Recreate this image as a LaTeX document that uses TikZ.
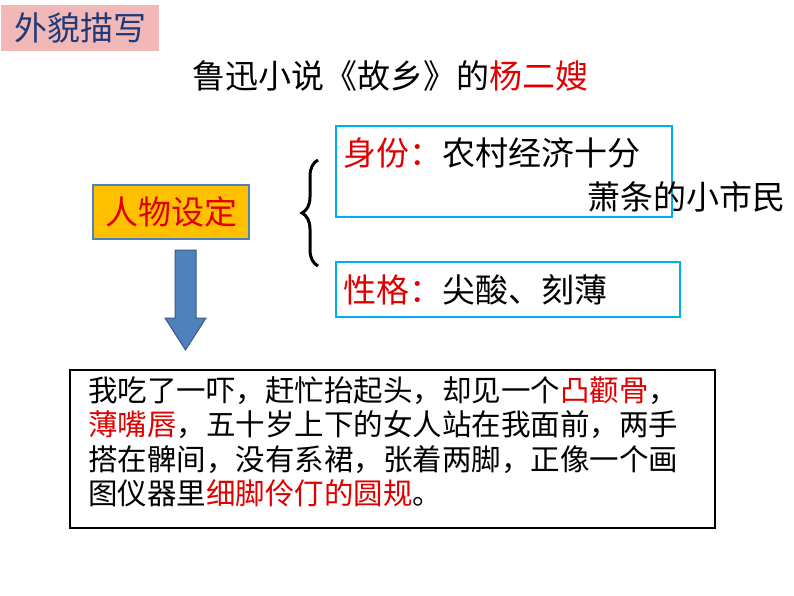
\documentclass[tikz,border=0pt]{standalone}
\usepackage{fontspec}
\newfontfamily\cjk{Noto Sans CJK SC}
\usetikzlibrary{positioning,decorations.pathreplacing}
\definecolor{tagpink}{HTML}{F2B8B8}
\definecolor{navy}{HTML}{1F3A7A}
\definecolor{boxblue}{HTML}{00B0F0}
\definecolor{arrowblue}{HTML}{4F81BD}
\definecolor{setorange}{HTML}{FFC000}
\definecolor{hl}{HTML}{E00000}
\begin{document}
\begin{tikzpicture}[x=1pt,y=-1pt,
    every node/.append style={font=\cjk\fontsize{33}{40}\selectfont, inner sep=0pt},
    infobox/.style={draw=boxblue, line width=2pt},
    para/.style={font=\cjk\fontsize{29.5}{35.5}\selectfont, anchor=north west, align=left}
  ]
  \useasboundingbox (0,0) rectangle (794,596);
  % heading tag
  \node [fill=tagpink, text=navy, minimum width=158, minimum height=46] (tag) at (80,28) {外貌描写};
  \node (title) at (390,76) {鲁迅小说《故乡》的\textcolor{hl}{杨二嫂}};
  % role box
  \node [draw=arrowblue, line width=1.5pt, fill=setorange, text=hl,
         minimum width=156, minimum height=54] (role) at (171,212) {人物设定};
  \draw [infobox] (336,126) rectangle (672,217);
  \node [anchor=west] (status) at (343,153) {\textcolor{hl}{身份：}农村经济十分};
  \node [anchor=east] (status2) at (786,197) {萧条的小市民};
  \draw [infobox] (336,262) rectangle (680,317);
  \node [anchor=west] (trait) at (343,290) {\textcolor{hl}{性格：}尖酸、刻薄};
  % brace
  \draw [line width=3pt, decorate, decoration={brace, amplitude=16pt}]
    (318,266) -- (318,160);
  % arrow
  \draw [fill=arrowblue, draw=arrowblue!70!black, line width=1pt]
    (175,250) -- (196,250) -- (196,318) -- (206,318) -- (185.5,350)
    -- (165,318) -- (175,318) -- cycle;
  % quotation
  \draw [line width=2pt] (70,370) rectangle (715,528);
  \node [para] (quote) at (88,376) {我吃了一吓，赶忙抬起头，却见一个\textcolor{hl}{凸颧骨}，\\[-1pt]
    \textcolor{hl}{薄嘴唇}，五十岁上下的女人站在我面前，两手\\[-1pt]
    搭在髀间，没有系裙，张着两脚，正像一个画\\[-1pt]
    图仪器里\textcolor{hl}{细脚伶仃的圆规}。};
\end{tikzpicture}
\end{document}
